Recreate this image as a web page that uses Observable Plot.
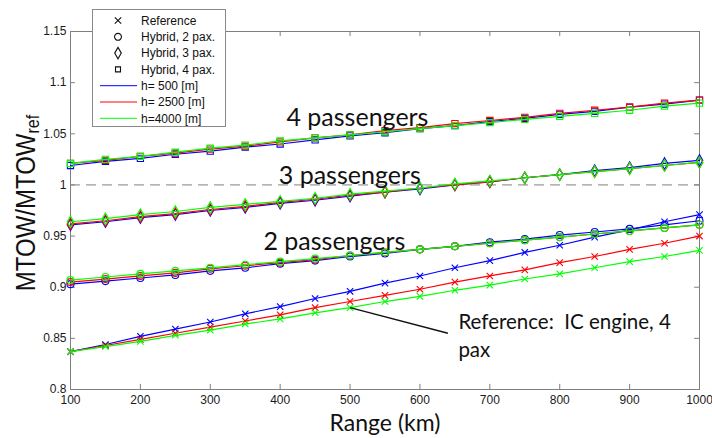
<!DOCTYPE html>
<html><head><meta charset="utf-8">
<script src="https://cdn.jsdelivr.net/npm/d3@7"></script>
<script src="https://cdn.jsdelivr.net/npm/@observablehq/plot@0.6"></script>
<style>body{margin:0;background:#fff} #chart{width:712px;height:438px}</style>
</head><body><div id="chart"></div>
<script>
// ---------- data ----------
const ranges = [100,150,200,250,300,350,400,450,500,550,600,650,700,750,800,850,900,950,1000];
const xTicks = [100,200,300,400,500,600,700,800,900,1000];
const yTicks = [0.8,0.85,0.9,0.95,1,1.05,1.1,1.15];
const altitudes = ["h= 500 [m]", "h= 2500 [m]", "h=4000 [m]"];
const altColors = ["#0000ff", "#ff0000", "#00ff00"];
const groupNames = ["Reference", "Hybrid, 2 pax.", "Hybrid, 3 pax.", "Hybrid, 4 pax."];
const groupSymbols = ["times", "circle", "diamond", "square"];

// Reference: IC engine, 4 pax
const ref_h500  = [0.837,0.844,0.852,0.859,0.866,0.874,0.881,0.889,0.896,0.904,0.911,0.919,0.926,0.934,0.941,0.949,0.956,0.964,0.971];
const ref_h2500 = [0.837,0.843,0.849,0.855,0.861,0.867,0.873,0.880,0.886,0.892,0.898,0.905,0.911,0.917,0.924,0.930,0.937,0.943,0.950];
const ref_h4000 = [0.837,0.842,0.847,0.853,0.858,0.864,0.869,0.875,0.880,0.886,0.891,0.897,0.902,0.908,0.913,0.919,0.925,0.930,0.936];
// Hybrid, 2 pax
const hyb2_h500  = [0.903,0.906,0.909,0.912,0.916,0.919,0.923,0.926,0.930,0.933,0.937,0.940,0.944,0.947,0.951,0.954,0.957,0.961,0.965];
const hyb2_h2500 = [0.905,0.908,0.911,0.914,0.918,0.921,0.924,0.927,0.931,0.934,0.937,0.940,0.943,0.946,0.949,0.952,0.955,0.958,0.961];
const hyb2_h4000 = [0.907,0.910,0.913,0.916,0.919,0.922,0.925,0.928,0.931,0.934,0.937,0.940,0.943,0.946,0.949,0.952,0.955,0.958,0.961];
// Hybrid, 3 pax
const hyb3_h500  = [0.961,0.964,0.968,0.971,0.975,0.978,0.982,0.985,0.989,0.993,0.996,1.000,1.003,1.007,1.010,1.014,1.017,1.021,1.024];
const hyb3_h2500 = [0.962,0.965,0.969,0.972,0.976,0.979,0.983,0.986,0.990,0.993,0.997,1.000,1.003,1.007,1.010,1.013,1.016,1.019,1.022];
const hyb3_h4000 = [0.964,0.967,0.971,0.974,0.978,0.981,0.984,0.987,0.991,0.994,0.997,1.001,1.004,1.007,1.010,1.013,1.016,1.019,1.022];
// Hybrid, 4 pax
const hyb4_h500  = [1.019,1.023,1.026,1.030,1.033,1.037,1.040,1.044,1.048,1.051,1.055,1.058,1.062,1.065,1.069,1.072,1.076,1.079,1.083];
const hyb4_h2500 = [1.021,1.024,1.028,1.031,1.035,1.038,1.042,1.046,1.049,1.053,1.056,1.060,1.063,1.066,1.070,1.073,1.076,1.080,1.083];
const hyb4_h4000 = [1.021,1.025,1.028,1.032,1.036,1.039,1.043,1.046,1.049,1.052,1.055,1.058,1.061,1.064,1.067,1.070,1.073,1.077,1.080];

const seriesByAlt = [
  [ref_h500, hyb2_h500, hyb3_h500, hyb4_h500],
  [ref_h2500, hyb2_h2500, hyb3_h2500, hyb4_h2500],
  [ref_h4000, hyb2_h4000, hyb3_h4000, hyb4_h4000]
];

// annotations (data coordinates)
const passengerLabels = [
  {x: 409, y: 1.0657, text: "4 passengers"},
  {x: 398, y: 1.0088, text: "3 passengers"},
  {x: 376, y: 0.944, text: "2 passengers"}
];
const refLabel = [{x: 655, y: 0.854, text: "Reference:  IC engine, 4\npax"}];
const refPointer = [{x1: 500, y1: ref_h4000[8], x2: 640, y2: 0.855}];

// ---------- chart ----------
const tickLenY = 0.005, tickLenX = 7;
const marks = [
  Plot.ruleY([1], {x1: 100, x2: 1000, stroke: "#7f7f7f", strokeWidth: 1, strokeDasharray: "10,6"}),
  Plot.frame({stroke: "#7f7f7f"}),
  Plot.ruleX(xTicks, {y1: 0.8, y2: 0.8 + tickLenY, stroke: "#7f7f7f"}),
  Plot.ruleX(xTicks, {y1: 1.15, y2: 1.15 - tickLenY, stroke: "#7f7f7f"}),
  Plot.ruleY(yTicks, {x1: 100, x2: 100 + tickLenX, stroke: "#7f7f7f"}),
  Plot.ruleY(yTicks, {x1: 1000, x2: 1000 - tickLenX, stroke: "#7f7f7f"}),
  Plot.axisX({ticks: xTicks, tickSize: 0, tickPadding: 6, label: null, tickFormat: d => String(d), fill: "#1a1a1a"}),
  Plot.axisY({ticks: yTicks, tickSize: 0, tickPadding: 4, label: null, tickFormat: d3.format("~g"), fill: "#1a1a1a"})
];
seriesByAlt.forEach((groups, a) => {
  groups.forEach((vals, g) => {
    const rows = ranges.map((r, i) => ({range: r, value: vals[i]}));
    marks.push(Plot.line(rows, {x: "range", y: "value", stroke: altColors[a], strokeWidth: 1.2}));
    marks.push(Plot.dot(rows, {x: "range", y: "value", symbol: groupSymbols[g], r: g === 0 ? 3 : 3.5,
      stroke: altColors[a], strokeWidth: 1.1, fill: "none"}));
  });
});
marks.push(Plot.link(refPointer, {x1: "x1", y1: "y1", x2: "x2", y2: "y2", stroke: "#111", strokeWidth: 1.4}));
marks.push(Plot.text(passengerLabels, {x: "x", y: "y", text: "text", textAnchor: "start", lineAnchor: "middle",
  fontSize: 25, fontFamily: "Lato", fill: "#111"}));
marks.push(Plot.text(refLabel, {x: "x", y: "y", text: "text", textAnchor: "start", lineAnchor: "middle",
  fontSize: 20.5, lineHeight: 1.37, fontFamily: "Lato", fill: "#111"}));

const plot = Plot.plot({
  width: 712, height: 438,
  marginLeft: 70, marginRight: 13, marginTop: 31, marginBottom: 49,
  x: {domain: [100, 1000]},
  y: {domain: [0.8, 1.15]},
  style: {fontFamily: "'Liberation Sans', Arial, sans-serif", fontSize: "12px", background: "white", color: "#1a1a1a"},
  marks
});
document.getElementById("chart").appendChild(plot);

// ---------- titles & legend ----------
const svg = d3.select(plot);
svg.append("text")
  .attr("x", 385).attr("y", 431).attr("text-anchor", "middle")
  .style("font-family", "Lato").style("font-size", "23px").attr("fill", "#111")
  .text("Range (km)");
const yl = svg.append("text")
  .attr("transform", "translate(35,203) rotate(-90) scale(1,1.12)")
  .attr("text-anchor", "middle")
  .style("font-family", "'Liberation Sans', Arial, sans-serif").style("font-size", "24px").attr("fill", "#111");
yl.append("tspan").text("MTOW/MTOW");
yl.append("tspan").attr("dy", 4).style("font-size", "16px").text("ref");

const lg = svg.append("g");
lg.append("rect").attr("x", 92.5).attr("y", 9.5).attr("width", 133).attr("height", 117)
  .attr("fill", "white").attr("stroke", "#8a8a8a").attr("stroke-width", 1);
const entries = [
  ...groupNames.map((n, i) => ({label: n, symbol: groupSymbols[i]})),
  ...altitudes.map((n, i) => ({label: n, color: altColors[i]}))
];
const symMap = {times: d3.symbolTimes, circle: d3.symbolCircle, diamond: d3.symbolDiamond, square: d3.symbolSquare};
entries.forEach((e, i) => {
  const y = 20.5 + i * 16.3;
  if (e.symbol) {
    const size = e.symbol === "times" ? Math.PI * 9 : e.symbol === "square" ? 25 : Math.PI * 12;
    lg.append("path").attr("d", d3.symbol(symMap[e.symbol], size)())
      .attr("transform", `translate(118,${y})`).attr("fill", "none").attr("stroke", "#111").attr("stroke-width", 1.1);
  } else {
    lg.append("line").attr("x1", 100).attr("x2", 137).attr("y1", y).attr("y2", y)
      .attr("stroke", e.color).attr("stroke-width", 1);
  }
  lg.append("text").attr("x", 141).attr("y", y).attr("dy", "0.36em").attr("text-anchor", "start")
    .style("font-family", "'Liberation Sans', Arial, sans-serif").style("font-size", "12px").attr("fill", "#111")
    .text(e.label);
});
</script></body></html>
